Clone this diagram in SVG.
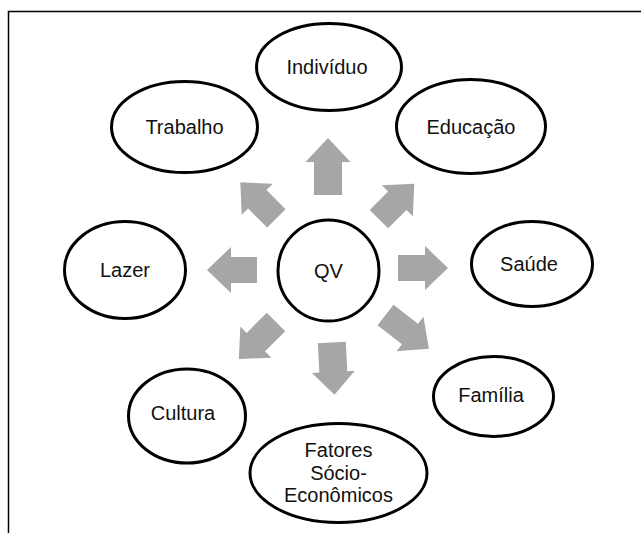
<svg xmlns="http://www.w3.org/2000/svg" width="641" height="533" viewBox="0 0 641 533">
<style>
.node ellipse, .node circle { fill: #fff; stroke: #000; stroke-width: 3; }
.node text { font-family: "Liberation Sans", Arial, sans-serif; font-size: 20px; fill: #111; text-anchor: middle; }
.arrow { fill: #a6a6a6; stroke: none; }
.frame { fill: none; stroke: #000; stroke-width: 1.5; }
</style>
<rect width="641" height="533" fill="#fff"/>
<path class="frame" d="M8.5,533 V11.5 H641"/>
<g id="connectors">
  <path class="arrow" transform="translate(328,270) rotate(-90)" d="M75,-14 H108 V-22.5 L132,0 L108,22.5 V14 H75 Z"/>
  <path class="arrow" transform="translate(328,268)" d="M70,-13 H97 V-22 L120,0 L97,22 V13 H70 Z"/>
  <path class="arrow" transform="translate(328,270) rotate(180)" d="M71,-13 H97 V-23 L121,0 L97,23 V13 H71 Z"/>
  <path class="arrow" transform="translate(328,270) rotate(87)" d="M72.5,-14 H102 V-21.5 L125,0 L102,21.5 V14 H72.5 Z"/>
  <path class="arrow" transform="translate(328,270) rotate(-135)" d="M73,-13 H100 V-22 L124,0 L100,22 V13 H73 Z"/>
  <path class="arrow" transform="translate(328,270) rotate(-45)" d="M72,-13 H98 V-22 L122,0 L98,22 V13 H72 Z"/>
  <path class="arrow" transform="translate(328,270) rotate(135)" d="M73.5,-13 H102 V-22 L126,0 L102,22 V13 H73.5 Z"/>
  <path class="arrow" transform="translate(328,270) rotate(38)" d="M73,-13 H104 V-22 L128,0 L104,22 V13 H73 Z"/>
</g>
<g id="node-qv" class="node"><circle cx="328.5" cy="270.5" r="50.5"/><text x="328.5" y="277.5">QV</text></g>
<g id="node-individuo" class="node"><ellipse cx="329" cy="67" rx="72.5" ry="43.5"/><text x="327" y="74">Indivíduo</text></g>
<g id="node-educacao" class="node"><ellipse cx="471" cy="126.5" rx="74.5" ry="47"/><text x="471" y="134">Educação</text></g>
<g id="node-trabalho" class="node"><ellipse cx="184.5" cy="127" rx="73" ry="45.5"/><text x="184.5" y="134">Trabalho</text></g>
<g id="node-lazer" class="node"><ellipse cx="125" cy="270" rx="60.5" ry="48.5"/><text x="125" y="277">Lazer</text></g>
<g id="node-saude" class="node"><ellipse cx="532" cy="264" rx="60.5" ry="42.5"/><text x="529" y="271">Saúde</text></g>
<g id="node-familia" class="node"><ellipse cx="493.5" cy="396.5" rx="60" ry="40"/><text x="491" y="402">Família</text></g>
<g id="node-cultura" class="node"><ellipse cx="187" cy="416" rx="58.5" ry="47"/><text x="183" y="420">Cultura</text></g>
<g id="node-fatores" class="node"><ellipse cx="338.5" cy="473" rx="88.5" ry="49.5"/>
  <text x="338.5" y="457">Fatores</text>
  <text x="338.5" y="480">Sócio-</text>
  <text x="338.5" y="502">Econômicos</text>
</g>
</svg>
